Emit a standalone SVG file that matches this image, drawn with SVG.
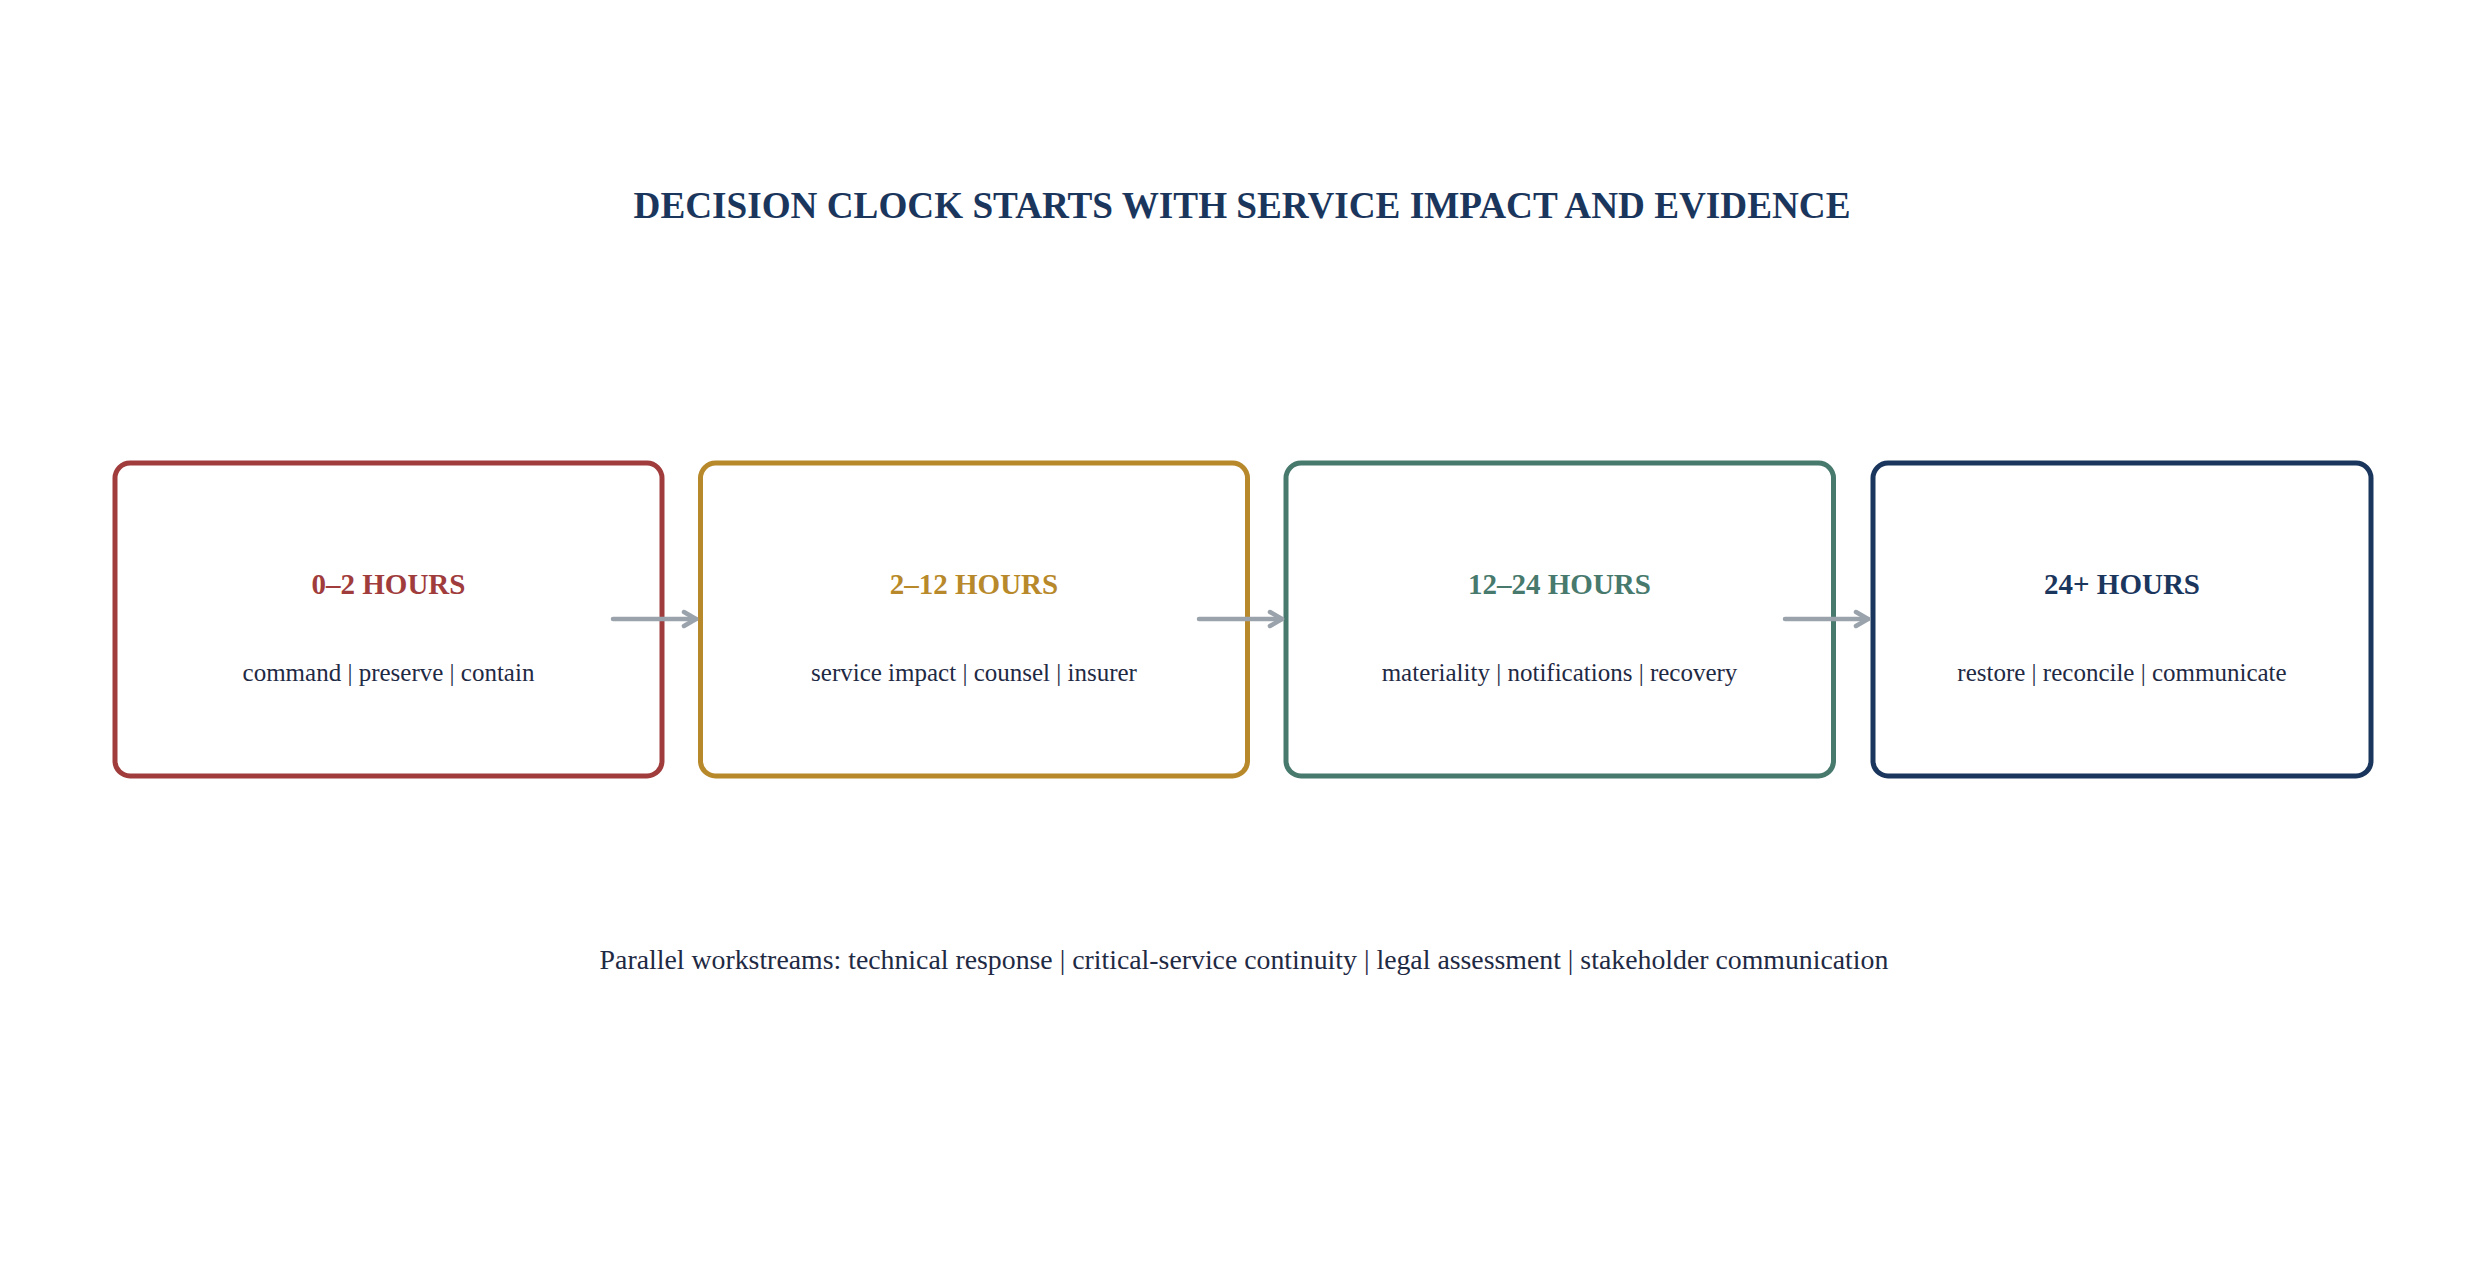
<svg xmlns="http://www.w3.org/2000/svg" width="2486" height="1276" viewBox="0 0 2486 1276">
<style>
.box{fill:#ffffff;stroke-width:5}
.hd{font-family:"Liberation Serif","Times New Roman",serif;font-weight:bold;font-size:29px;text-anchor:middle}
.sub{font-family:"Liberation Serif","Times New Roman",serif;font-size:25px;fill:#1f2a44;text-anchor:middle}
.conn{stroke:#9aa3ac;stroke-width:4.5;stroke-linecap:round;fill:none}
</style>
<defs>
<marker id="ah" viewBox="0 0 18 20" refX="15" refY="10" markerWidth="18" markerHeight="20" markerUnits="userSpaceOnUse" orient="auto">
<path d="M3,3 L15,10 L3,17" fill="none" stroke="#9aa3ac" stroke-width="4.5" stroke-linecap="round" stroke-linejoin="round"/>
</marker>
</defs>
<rect width="2486" height="1276" fill="#ffffff"/>
<text x="1242" y="218" font-family="Liberation Serif,'Times New Roman',serif" font-weight="bold" font-size="37.2" fill="#1b365d" text-anchor="middle">DECISION CLOCK STARTS WITH SERVICE IMPACT AND EVIDENCE</text>
<g id="node-0-2">
<rect class="box" x="115" y="463" width="547" height="313" rx="15" stroke="#a03c3c"/>
<text class="hd" x="388.5" y="594" fill="#a03c3c">0–2 HOURS</text>
<text class="sub" x="388.5" y="681">command | preserve | contain</text>
</g>
<g id="node-2-12">
<rect class="box" x="700.5" y="463" width="547" height="313" rx="15" stroke="#b8892a"/>
<text class="hd" x="974" y="594" fill="#b8892a">2–12 HOURS</text>
<text class="sub" x="974" y="681">service impact | counsel | insurer</text>
</g>
<g id="node-12-24">
<rect class="box" x="1286" y="463" width="547.5" height="313" rx="15" stroke="#47796d"/>
<text class="hd" x="1559.5" y="594" fill="#47796d">12–24 HOURS</text>
<text class="sub" x="1559.5" y="681">materiality | notifications | recovery</text>
</g>
<g id="node-24plus">
<rect class="box" x="1873" y="463" width="498" height="313" rx="15" stroke="#1b365d"/>
<text class="hd" x="2122" y="594" fill="#1b365d">24+ HOURS</text>
<text class="sub" x="2122" y="681">restore | reconcile | communicate</text>
</g>
<g id="connectors">
<line class="conn" x1="613" y1="619" x2="696" y2="619" marker-end="url(#ah)"/>
<line class="conn" x1="1199" y1="619" x2="1282" y2="619" marker-end="url(#ah)"/>
<line class="conn" x1="1785" y1="619" x2="1868" y2="619" marker-end="url(#ah)"/>
</g>
<text x="1244" y="969" font-family="Liberation Serif,'Times New Roman',serif" font-size="27.8" fill="#1f2a44" text-anchor="middle">Parallel workstreams: technical response | critical-service continuity | legal assessment | stakeholder communication</text>
</svg>
